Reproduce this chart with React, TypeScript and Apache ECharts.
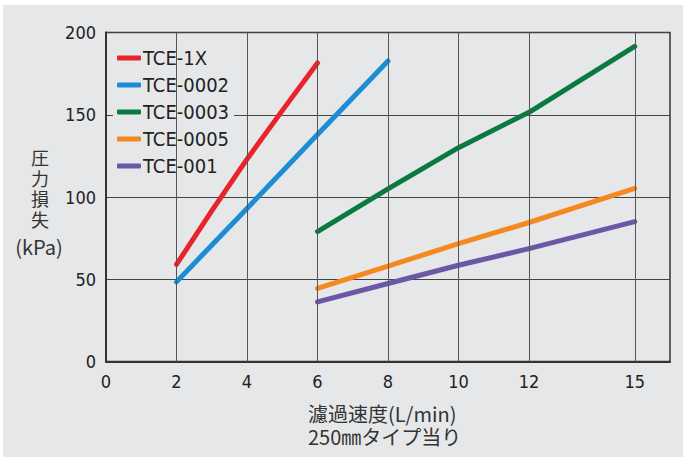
import React, { useEffect, useRef } from "react";
import * as echarts from "echarts";

const seriesNames = ["TCE-1X", "TCE-0002", "TCE-0003", "TCE-0005", "TCE-001"];
const seriesColors = ["#e8232b", "#1a8dd6", "#0a7a40", "#f5891f", "#6b57a5"];

const xRed = [2, 3, 4, 5, 6];
const yRed = [59, 91.5, 123, 152.5, 181.5];
const xBlue = [2, 4, 6, 8];
const yBlue = [48.4, 93, 138, 182.7];
const xGreen = [6, 8, 10, 12, 15];
const yGreen = [79, 105, 130, 151.5, 191.5];
const xOrange = [6, 8, 10, 12, 15];
const yOrange = [44.4, 58, 71.6, 84.5, 105.2];
const xPurple = [6, 8, 10, 12, 15];
const yPurple = [36.2, 47.4, 58.5, 68.6, 85];

const xTickLabels = [0, 2, 4, 6, 8, 10, 12, 15];
const xGridLines = [2, 4, 6, 8, 10, 12, 15];

const yAxisNameChars = ["圧", "力", "損", "失"];
const yAxisUnit = "(kPa)";
const xAxisNameLine1 = "濾過速度(L/min)";
const xAxisNameLine2 = "250㎜タイプ当り";

const NARROW = "'Liberation Sans Narrow', 'DejaVu Sans Condensed', 'Arial Narrow', sans-serif";
const CJK = "'Noto Sans CJK JP', 'Noto Sans', sans-serif";

const OX = 3;
const OY = 5;

export default function App() {
  const ref = useRef<HTMLDivElement>(null);

  useEffect(() => {
    if (!ref.current) return;
    const chart = echarts.init(ref.current, undefined, { renderer: "svg" });

    const xs = [xRed, xBlue, xGreen, xOrange, xPurple];
    const ys = [yRed, yBlue, yGreen, yOrange, yPurple];

    const dataSeries = seriesNames.map((name, i) => ({
      name,
      type: "line",
      data: xs[i].map((x, j) => [x, ys[i][j]]),
      showSymbol: false,
      symbol: "none",
      z: 3,
      lineStyle: { color: seriesColors[i], width: 5, cap: "round", join: "round" },
      itemStyle: { color: seriesColors[i] },
    }));

    const cjkText = (text: string, x: number, y: number, size: number, align: string, lh?: number) => ({
      type: "text",
      x: x - OX,
      y: y - OY,
      style: {
        text,
        font: `${size}px ${CJK}`,
        fill: "#333",
        textAlign: align,
        align,
        textVerticalAlign: "middle",
        verticalAlign: "middle",
        lineHeight: lh || Math.round(size * 1.2),
      },
    });

    const option: any = {
      animation: false,
      backgroundColor: "#e6e7e9",
      grid: {
        left: 106 - OX,
        right: 683 - 670,
        top: 32.5 - OY,
        bottom: 457 - 361.5,
        show: true,
        borderColor: "#333",
        borderWidth: 1.5,
        backgroundColor: "transparent",
      },
      legend: {
        data: seriesNames,
        orient: "vertical",
        left: 113 - OX,
        top: 43 - OY,
        z: 2,
        padding: [5, 5, 4, 4],
        itemGap: 7,
        itemWidth: 24,
        itemHeight: 5,
        icon: "roundRect",
        backgroundColor: "#e6e7e9",
        textStyle: { fontFamily: NARROW, fontSize: 20, color: "#222", padding: [0, 0, 0, -3] },
      },
      xAxis: {
        type: "value",
        min: 0,
        max: 16,
        interval: 1,
        axisLine: { show: true, lineStyle: { color: "#333", width: 2 } },
        axisTick: { show: false },
        splitLine: { show: false },
        axisLabel: {
          margin: 11,
          fontFamily: NARROW,
          fontSize: 18,
          color: "#222",
          formatter: (v: number) => (xTickLabels.indexOf(v) >= 0 ? String(v) : ""),
        },
      },
      yAxis: {
        type: "value",
        min: 0,
        max: 200,
        interval: 50,
        axisLine: { show: true, lineStyle: { color: "#333", width: 2 } },
        axisTick: { show: false },
        splitLine: { show: true, lineStyle: { color: "#444", width: 1 } },
        axisLabel: { margin: 10, fontFamily: NARROW, fontSize: 18, color: "#222" },
      },
      series: [
        {
          name: "grid-v",
          type: "line",
          data: [],
          z: 1,
          silent: true,
          markLine: {
            silent: true,
            symbol: ["none", "none"],
            label: { show: false },
            lineStyle: { color: "#555", width: 1, type: "solid" },
            data: xGridLines.map((x) => ({ xAxis: x })),
          },
        },
        ...dataSeries,
      ],
      graphic: [
        ...yAxisNameChars.map((c, i) => cjkText(c, 40, 157 + i * 20.5, 18, "center", 19)),
        cjkText(yAxisUnit, 39, 246, 20, "center"),
        cjkText(xAxisNameLine1, 308, 413, 20, "left"),
        cjkText(xAxisNameLine2, 308, 436, 20, "left"),
      ],
    };

    chart.setOption(option);
    return () => chart.dispose();
  }, []);

  return (
    <div style={{ position: "fixed", left: 0, top: 0, width: 683, height: 457, background: "#fff" }}>
      <div
        ref={ref}
        style={{ position: "absolute", left: OX, top: OY, width: 683 - OX, height: 457 - OY }}
      />
    </div>
  );
}
